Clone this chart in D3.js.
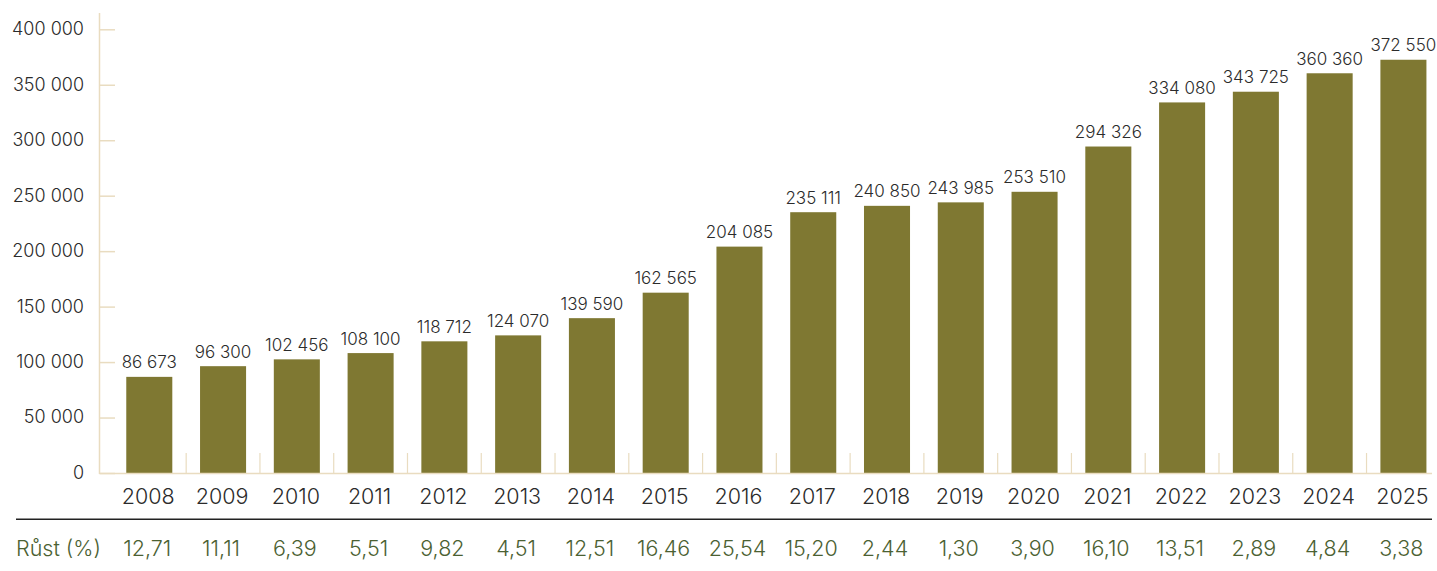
<!DOCTYPE html>
<html>
<head>
<meta charset="utf-8">
<script src="https://cdn.jsdelivr.net/npm/d3@7"></script>
<style>
  html, body { margin: 0; padding: 0; background: #ffffff; }
  svg { display: block; font-family: Inter, "Open Sans", sans-serif; font-weight: 300; }
</style>
</head>
<body>
<svg id="chart" width="1437" height="571"></svg>
<script>
const years = ["2008","2009","2010","2011","2012","2013","2014","2015","2016","2017","2018","2019","2020","2021","2022","2023","2024","2025"];
const values = [86673, 96300, 102456, 108100, 118712, 124070, 139590, 162565, 204085, 235111, 240850, 243985, 253510, 294326, 334080, 343725, 360360, 372550];
const growth = ["12,71","11,11","6,39","5,51","9,82","4,51","12,51","16,46","25,54","15,20","2,44","1,30","3,90","16,10","13,51","2,89","4,84","3,38"];
const yTicks = [0, 50000, 100000, 150000, 200000, 250000, 300000, 350000, 400000];
const growthTitle = "Růst (%)";

const fmt = v => d3.format(",")(v).replace(/,/g, " ");

const svg = d3.select("#chart");
const axisX = 99.5, baseY = 473, topY = 13, rightX = 1432;

const y = d3.scaleLinear().domain([0, 400000]).range([baseY, 29.3]);
const x = d3.scaleBand().domain(years).range([112.4, 1440.3]).paddingInner(0.376).paddingOuter(0.188);

const beige = "#e9dcc0";
const barColor = "#7f7832";
const textDark = "#2b2b2b";
const green = "#4b6132";

// bars
svg.append("g").selectAll("rect").data(values).join("rect")
  .attr("x", (d, i) => x(years[i]))
  .attr("width", x.bandwidth())
  .attr("y", d => y(d))
  .attr("height", d => baseY - y(d))
  .attr("fill", barColor);

// baseline
svg.append("line").attr("x1", axisX).attr("x2", rightX).attr("y1", baseY + 0.5).attr("y2", baseY + 0.5)
  .attr("stroke", beige).attr("stroke-width", 1.5);

// separators between categories
const step = x.step();
const x0 = x.range()[0];
svg.append("g").selectAll("line").data(d3.range(1, years.length)).join("line")
  .attr("x1", i => x0 + step * i).attr("x2", i => x0 + step * i)
  .attr("y1", baseY - 20).attr("y2", baseY)
  .attr("stroke", beige).attr("stroke-width", 1.2);

// y axis
const yAxis = d3.axisRight(y).tickValues(yTicks).tickSize(15.5).tickFormat("");
const gy = svg.append("g").attr("transform", `translate(${axisX},0)`).call(yAxis);
gy.select(".domain").remove();
gy.selectAll(".tick line").attr("stroke", beige).attr("stroke-width", 1.5);
svg.append("line").attr("x1", axisX).attr("x2", axisX).attr("y1", topY).attr("y2", baseY + 1)
  .attr("stroke", beige).attr("stroke-width", 1.5);

svg.append("g").selectAll("text").data(yTicks).join("text")
  .attr("x", 84).attr("y", d => y(d)).attr("dy", "0.33em")
  .attr("text-anchor", "end").attr("fill", textDark)
  .style("font-size", "18px")
  .text(d => fmt(d));

// value labels
svg.append("g").selectAll("text").data(values).join("text")
  .attr("x", (d, i) => x(years[i]) + x.bandwidth() / 2)
  .attr("y", d => y(d) - 8.5)
  .attr("text-anchor", "middle").attr("fill", textDark)
  .style("font-size", "17px")
  .text(d => fmt(d));

// year labels
svg.append("g").selectAll("text").data(years).join("text")
  .attr("x", d => x(d) + x.bandwidth() / 2 - 1)
  .attr("y", 503.5)
  .attr("text-anchor", "middle").attr("fill", textDark)
  .style("font-size", "21.5px")
  .text(d => d);

// separator line
svg.append("line").attr("x1", 16).attr("x2", rightX).attr("y1", 519.3).attr("y2", 519.3)
  .attr("stroke", "#222").attr("stroke-width", 1.6);

// growth row
svg.append("text").attr("x", 16).attr("y", 556).attr("fill", green)
  .style("font-size", "21.5px").text(growthTitle);
svg.append("g").selectAll("text").data(growth).join("text")
  .attr("x", (d, i) => x(years[i]) + x.bandwidth() / 2 - 2)
  .attr("y", 556)
  .attr("text-anchor", "middle").attr("fill", green)
  .style("font-size", "21.5px")
  .text(d => d);
</script>
</body>
</html>
